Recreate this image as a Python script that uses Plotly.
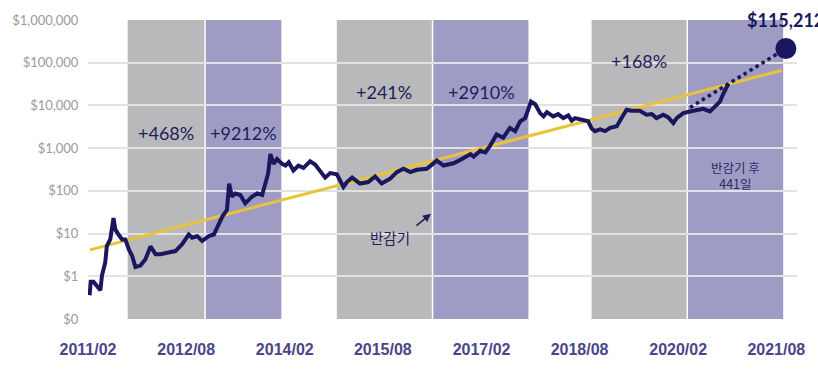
import math
import plotly.graph_objects as go

# ---- data ----
dates = [
    "2011-02-10", "2011-02-16", "2011-03-04", "2011-04-11", "2011-04-20", "2011-05-08",
    "2011-05-17", "2011-06-05", "2011-06-23", "2011-07-03", "2011-07-21", "2011-08-10",
    "2011-08-28", "2011-09-16", "2011-10-05", "2011-10-23", "2011-11-20", "2011-12-18",
    "2012-01-15", "2012-02-12", "2012-03-10", "2012-04-17", "2012-06-02", "2012-07-09",
    "2012-08-15", "2012-09-03", "2012-10-01", "2012-10-29", "2012-12-05", "2013-01-02",
    "2013-01-30", "2013-02-18", "2013-03-16", "2013-03-28", "2013-04-13", "2013-05-01",
    "2013-05-29", "2013-06-26", "2013-08-02", "2013-08-31", "2013-09-28", "2013-10-16",
    "2013-10-31", "2013-11-13", "2013-12-01", "2013-12-20", "2014-01-17", "2014-02-05",
    "2014-02-23", "2014-03-21", "2014-04-18", "2014-05-16", "2014-06-22", "2014-07-20",
    "2014-08-17", "2014-09-14", "2014-10-12", "2014-11-18", "2014-12-25", "2015-01-13",
    "2015-02-11", "2015-03-27", "2015-05-12", "2015-06-19", "2015-07-26", "2015-09-11",
    "2015-10-18", "2015-11-24", "2016-01-01", "2016-02-07", "2016-04-02", "2016-04-30",
    "2016-05-28", "2016-07-04", "2016-08-29", "2016-10-15", "2016-12-01", "2016-12-19",
    "2017-01-25", "2017-02-22", "2017-03-20", "2017-04-26", "2017-06-02", "2017-07-09",
    "2017-08-07", "2017-09-04", "2017-10-02", "2017-11-03", "2017-11-27", "2017-12-24",
    "2018-01-12", "2018-01-31", "2018-03-07", "2018-04-04", "2018-05-02", "2018-05-30",
    "2018-06-18", "2018-07-06", "2018-08-21", "2018-09-18", "2018-10-07", "2018-10-26",
    "2018-11-23", "2018-12-21", "2019-01-18", "2019-02-24", "2019-03-23", "2019-04-20",
    "2019-05-17", "2019-07-02", "2019-08-09", "2019-09-07", "2019-10-04", "2019-11-10",
    "2019-12-08", "2020-01-05", "2020-01-24", "2020-03-01", "2020-04-07", "2020-05-14",
    "2020-06-20", "2020-07-27", "2020-08-24", "2020-09-21", "2020-10-10", "2020-11-07",
]
prices = [
    0.36, 0.74, 0.74, 0.47, 1.05, 2.1,
    5.1, 7.3, 23, 12.5, 9.5, 7.3,
    7.3, 4.3, 3.0, 1.64, 1.78, 2.5,
    5.0, 3.3, 3.3, 3.6, 3.9, 5.6,
    9.5, 8.0, 8.7, 6.7, 8.7, 9.5,
    16, 25, 36, 148, 73, 87,
    80, 51, 73, 87, 80, 148,
    252, 727, 428, 557, 428, 391,
    466, 300, 391, 346, 491, 412,
    300, 204, 260, 243, 124, 161,
    204, 148, 161, 218, 148, 193,
    274, 328, 274, 311, 328, 412,
    510, 391, 442, 557, 727, 630,
    866, 791, 1129, 2099, 1753, 2979,
    2500, 4250, 5060, 12270, 10640, 6600,
    5540, 6960, 5540, 6260, 5060, 5840,
    4410, 5060, 4650, 4250, 2890, 2500,
    2740, 2500, 2979, 3260, 5060, 7900,
    7500, 7500, 6060, 6260, 5060, 6060,
    5250, 3880, 5060, 6600, 7220, 7900,
    8330, 7220, 9410, 12270, 19050, 32400,
]

proj_dates = ["2020-04-07", "2020-11-07", "2021-09-23"]
proj_prices = [8930, 32400, 215000]
proj_label = "$115,212"

trend_dates = ["2011-02-12", "2021-08-30"]
trend_prices = [4.16, 65900]

band_starts = ["2011-09-10", "2012-11-14", "2014-11-18", "2016-05-04", "2018-10-07", "2020-03-23"]
band_ends = ["2012-11-14", "2014-01-13", "2016-05-04", "2017-10-20", "2020-03-23", "2021-09-08"]
band_kinds = ["pre", "post", "pre", "post", "pre", "post"]
halving_dates = ["2012-11-14", "2016-05-04", "2020-03-23"]

pct_labels = ["+468%", "+9212%", "+241%", "+2910%", "+168%"]
pct_dates = ["2012-04-12", "2013-06-15", "2015-08-10", "2017-02-02", "2019-06-27"]
pct_values = [2286, 2286, 20090, 20090, 107900]

y_tick_values = [0.1, 1, 10, 100, 1000, 10000, 100000, 1000000]
y_tick_text = ["$0", "$1", "$10", "$100", "$1,000", "$10,000", "$100,000", "$1,000,000"]
x_tick_dates = ["2011-02-01", "2012-08-01", "2014-02-01", "2015-08-01",
                "2017-02-01", "2018-08-01", "2020-02-01", "2021-08-01"]
x_tick_text = ["2011/02", "2012/08", "2014/02", "2015/08",
               "2017/02", "2018/08", "2020/02", "2021/08"]

halving_label = "반감기"
halving_label_date = "2015-09-11"
halving_label_value = 8.0
halving_arrow_date = "2016-04-25"
halving_arrow_value = 29.1
after_label = "반감기 후<br>441일"
after_label_date = "2020-12-18"
after_label_value = 230

# ---- styles ----
NAVY = "#1a175e"
TEXT_NAVY = "#211e5b"
YELLOW = "#e9c43a"
GRAY_BAND = "#b9b8ba"
PURPLE_BAND = "#9e9cc5"
band_color = {"pre": GRAY_BAND, "post": PURPLE_BAND}

fig = go.Figure()

fig.add_trace(go.Scatter(
    x=trend_dates, y=trend_prices, mode="lines",
    line=dict(color=YELLOW, width=3), hoverinfo="skip", showlegend=False))

fig.add_trace(go.Scatter(
    x=dates, y=prices, mode="lines",
    line=dict(color=NAVY, width=4, shape="linear"), showlegend=False))

fig.add_trace(go.Scatter(
    x=proj_dates, y=proj_prices, mode="lines",
    line=dict(color=NAVY, width=3.5, dash="dot"), showlegend=False))

fig.add_trace(go.Scatter(
    x=[proj_dates[-1]], y=[proj_prices[-1]], mode="markers",
    marker=dict(color=NAVY, size=21), showlegend=False))

shapes = []
for s, e, k in zip(band_starts, band_ends, band_kinds):
    shapes.append(dict(type="rect", xref="x", yref="paper", x0=s, x1=e, y0=0, y1=1,
                       fillcolor=band_color[k], line=dict(width=0), layer="between"))
for h in halving_dates:
    shapes.append(dict(type="line", xref="x", yref="paper", x0=h, x1=h, y0=0, y1=1,
                       line=dict(color="white", width=1.5), layer="between"))

annotations = []
for t, d, v in zip(pct_labels, pct_dates, pct_values):
    annotations.append(dict(x=d, y=math.log10(v), xref="x", yref="y", text=t,
                            showarrow=False, font=dict(family="Lato", size=18, color=TEXT_NAVY)))
annotations.append(dict(x=halving_label_date, y=math.log10(halving_label_value), xref="x", yref="y",
                        text=halving_label, showarrow=False,
                        font=dict(family="Noto Sans CJK KR", size=14.5, color=TEXT_NAVY)))
annotations.append(dict(x=halving_arrow_date, y=math.log10(halving_arrow_value), xref="x", yref="y",
                        text="", showarrow=True, ax=-16, ay=13, arrowhead=2, arrowsize=1,
                        arrowwidth=1.6, arrowcolor=TEXT_NAVY, standoff=0, startstandoff=0))
annotations.append(dict(x=after_label_date, y=math.log10(after_label_value), xref="x", yref="y",
                        text=after_label, showarrow=False,
                        font=dict(family="Noto Sans CJK KR", size=12.5, color="#2e2b68")))
annotations.append(dict(x=proj_dates[-1], y=math.log10(proj_prices[-1]), xref="x", yref="y",
                        text=proj_label, showarrow=False, yshift=29, xanchor="center",
                        font=dict(family="Lato", size=18, color=NAVY, weight="bold")))

fig.update_layout(
    width=818, height=370,
    margin=dict(l=87, r=21, t=17, b=49),
    paper_bgcolor="white", plot_bgcolor="white",
    shapes=shapes, annotations=annotations,
    showlegend=False,
    xaxis=dict(
        type="date", range=["2011-02-01", "2021-11-24"],
        tickmode="array", tickvals=x_tick_dates, ticktext=x_tick_text,
        showgrid=False, zeroline=False, showline=False,
        ticks="outside", ticklen=16, tickcolor="rgba(0,0,0,0)",
        tickfont=dict(family="Liberation Sans", size=16, color="#4a4689", weight="bold"),
    ),
    yaxis=dict(
        type="log", range=[-1, 6],
        tickmode="array", tickvals=y_tick_values, ticktext=y_tick_text,
        showgrid=True, gridcolor="#e2e2e2", gridwidth=1.5,
        zeroline=False, showline=False,
        ticks="outside", ticklen=6, tickcolor="rgba(0,0,0,0)",
        tickfont=dict(family="Lato", size=13, color="#9b9b9b"),
    ),
)

fig.write_html("out.html", config={"displayModeBar": False},
               post_script="document.body.style.margin='0px';")
